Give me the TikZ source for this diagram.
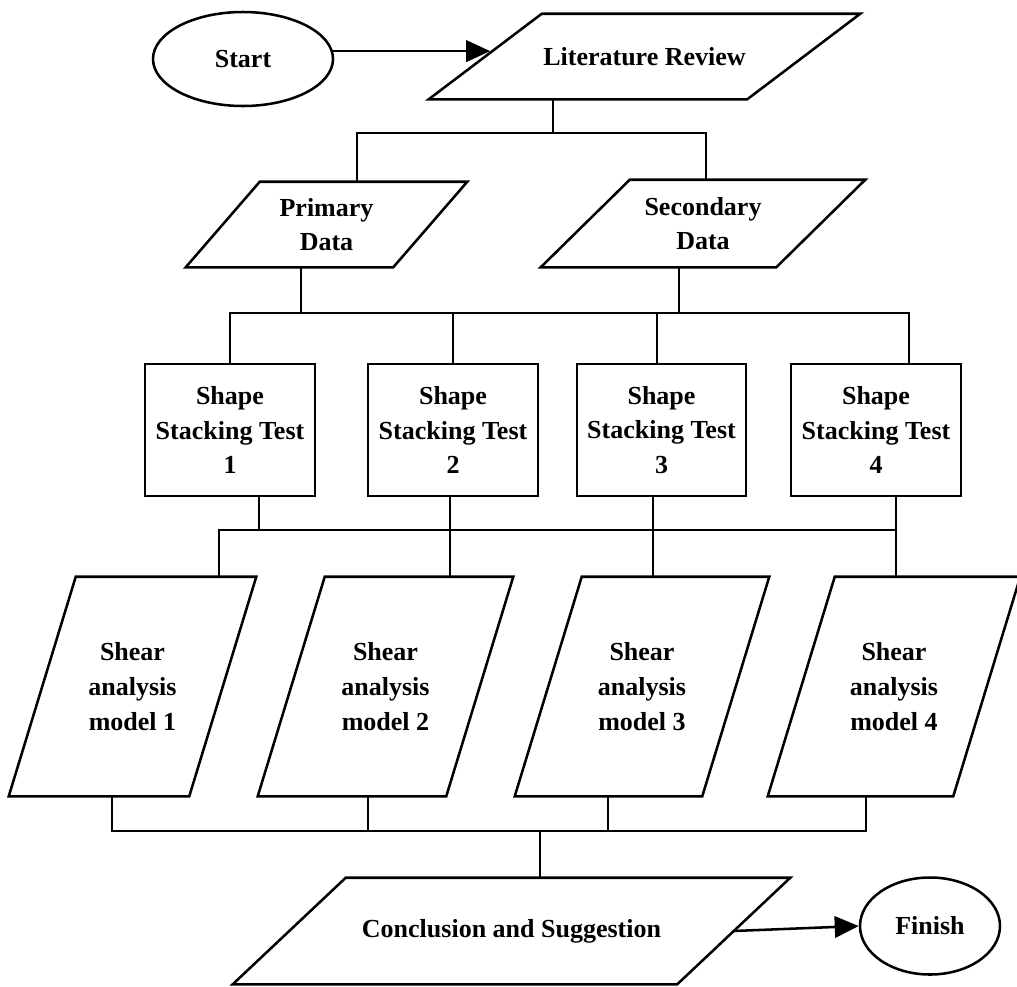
\documentclass[tikz,border=0pt]{standalone}
\usepackage{fontspec}
\setmainfont{Liberation Serif}
\usetikzlibrary{shapes.geometric,arrows.meta,calc}
\newcommand\PX{0.75pt}
\tikzset{
  every node/.style={font=\bfseries\fontsize{19.5}{26}\selectfont, align=center, inner sep=0pt},
  conn/.style={line width=1.9pt},
  arr/.style={line width=1.9pt, -{Triangle[length=18pt,width=16pt]}},
  term/.style={draw, ellipse, line width=1.9pt},
  stepbox/.style={draw, rectangle, line width=1.9pt, minimum height=132*\PX},
  parabody/.style={rectangle, draw=none}
}
% outline of a parallelogram round a node body: #1 node name, #2 slant in px
\newcommand\paraOutline[2]{%
  \draw[conn] ($(#1.south west)+(-#2*0.5,0)$) -- ($(#1.north west)+(#2*0.5,0)$)
    -- ($(#1.north east)+(#2*0.5,0)$) -- ($(#1.south east)+(-#2*0.5,0)$) -- cycle;}
\begin{document}
\begin{tikzpicture}[x=0.75pt,y=-0.75pt]
\useasboundingbox (0,0) rectangle (1017,986);
% nodes
\node[term, minimum width=180*\PX, minimum height=94*\PX] (start) at (243,59) {Start};
\node[parabody, minimum width=318*\PX, minimum height=85*\PX] (lit) at (644.5,56.5) {Literature Review};
\paraOutline{lit}{113}
\node[parabody, minimum width=207*\PX, minimum height=85*\PX] (prim) at (326.5,224.5) {Primary\\Data};
\paraOutline{prim}{74}
\node[parabody, minimum width=235*\PX, minimum height=87*\PX] (sec) at (703,223.5) {Secondary\\Data};
\paraOutline{sec}{89}
\node[stepbox, minimum width=170*\PX] (b1) at (230,430) {Shape\\Stacking Test\\1};
\node[stepbox, minimum width=170*\PX] (b2) at (453,430) {Shape\\Stacking Test\\2};
\node[stepbox, minimum width=169*\PX] (b3) at (661.5,430) {Shape\\Stacking Test\\3};
\node[stepbox, minimum width=170*\PX] (b4) at (876,430) {Shape\\Stacking Test\\4};
\node[parabody, minimum width=180*\PX, minimum height=219*\PX] (s1) at (132.5,686.5) {Shear\\analysis\\model 1};
\paraOutline{s1}{67}
\node[parabody, minimum width=188*\PX, minimum height=219*\PX] (s2) at (385.5,686.5) {Shear\\analysis\\model 2};
\paraOutline{s2}{67}
\node[parabody, minimum width=187*\PX, minimum height=219*\PX] (s3) at (642,686.5) {Shear\\analysis\\model 3};
\paraOutline{s3}{67}
\node[parabody, minimum width=185*\PX, minimum height=219*\PX] (s4) at (894,686.5) {Shear\\analysis\\model 4};
\paraOutline{s4}{67}
\node[parabody, minimum width=444*\PX, minimum height=106*\PX] (conc) at (511.5,931) {Conclusion and Suggestion};
\paraOutline{conc}{113}
\node[term, minimum width=140*\PX, minimum height=97*\PX] (fin) at (930,926) {Finish};
% junction coordinates
\coordinate (j1) at (553,133);
\coordinate (pL) at (357,133);
\coordinate (pR) at (706,133);
\coordinate (q1) at (301,313);
\coordinate (q2) at (679,313);
\coordinate (qL) at (230,313);
\coordinate (qR) at (909,313);
\coordinate (q3) at (657,313);
\coordinate (rL) at (219,530);
\coordinate (rR) at (896,530);
\coordinate (r1) at (259,530);
\coordinate (r2) at (450,530);
\coordinate (r3) at (653,530);
\coordinate (tL) at (112,831);
\coordinate (tR) at (866,831);
\coordinate (t2) at (368,831);
\coordinate (t3) at (608,831);
\coordinate (tc) at (540,831);
\coordinate (litIn) at ($(start.5 -| lit.west)+(5,0)$);
% connectors
\draw[arr] (start.5) -- (litIn);
\draw[conn] (lit.south -| j1) -- (j1);
\draw[conn] (prim.north -| pL) -- (pL) -- (pR) -- (sec.north -| pR);
\draw[conn] (prim.south -| q1) -- (q1);
\draw[conn] (sec.south -| q2) -- (q2);
\draw[conn] (b1.north -| qL) -- (qL) -- (qR) -- (b4.north -| qR);
\draw[conn] (b2.north) -- (b2.north |- qL);
\draw[conn] (b3.north -| q3) -- (q3);
\draw[conn] (b1.south -| r1) -- (r1);
\draw[conn] (b2.south -| r2) -- (s2.north -| r2);
\draw[conn] (b3.south -| r3) -- (s3.north -| r3);
\draw[conn] (b4.south -| rR) -- (s4.north -| rR);
\draw[conn] (s1.north -| rL) -- (rL) -- (rR);
\draw[conn] (s1.south -| tL) -- (tL) -- (tR) -- (s4.south -| tR);
\draw[conn] (s2.south -| t2) -- (t2);
\draw[conn] (s3.south -| t3) -- (t3);
\draw[conn] (tc) -- (conc.north -| tc);
\draw[arr] (conc.east) -- (fin.west);
\end{tikzpicture}
\end{document}
